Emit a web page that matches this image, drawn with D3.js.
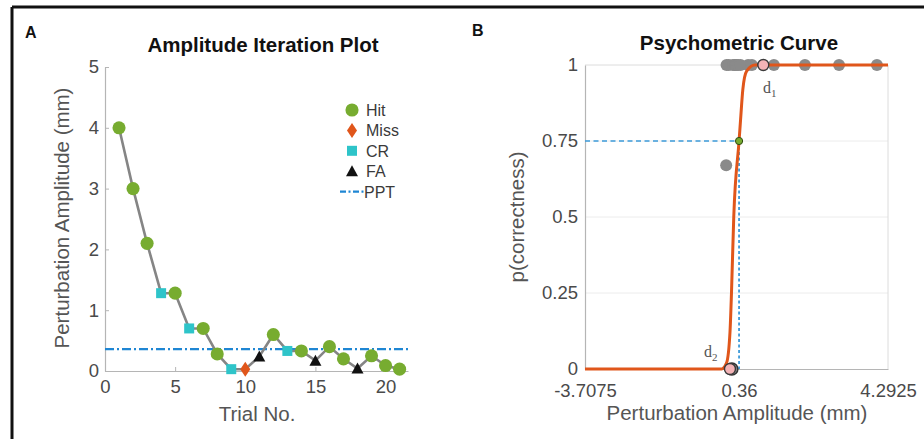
<!DOCTYPE html>
<html>
<head>
<meta charset="utf-8">
<script src="https://cdn.jsdelivr.net/npm/d3@7"></script>
<style>
    body { margin: 0; background: #fff; }
    svg text { font-family: "Liberation Sans", Arial, sans-serif; }
</style>
</head>
<body>
<div id="chart"></div>
<script>
// ---- panel A: amplitude iteration ----
const trials = [1, 2, 3, 4, 5, 6, 7, 8, 9, 10, 11, 12, 13, 14, 15, 16, 17, 18, 19, 20, 21];
const amplitudes = [4, 3, 2.1, 1.28, 1.28, 0.7, 0.7, 0.28, 0.03, 0.03, 0.24, 0.6, 0.33, 0.33, 0.17, 0.4, 0.2, 0.04, 0.25, 0.09, 0.03];
const outcomes = ['Hit', 'Hit', 'Hit', 'CR', 'Hit', 'CR', 'Hit', 'Hit', 'CR', 'Miss', 'FA', 'Hit', 'CR', 'Hit', 'FA', 'Hit', 'Hit', 'FA', 'Hit', 'Hit', 'Hit'];
const ppt = 0.36;
const xTicksA = [0, 5, 10, 15, 20];
const yTicksA = [0, 1, 2, 3, 4, 5];
const legendItems = ['Hit', 'Miss', 'CR', 'FA', 'PPT'];

// ---- panel B: psychometric curve ----
const curveX = [-3.7075, -0.1, 0.03, 0.12, 0.16, 0.22, 0.36, 0.40, 0.46, 0.56, 0.78, 4.2925];
const curveP = [0, 0, 0.02, 0.12, 0.25, 0.5, 0.75, 0.82, 0.92, 0.98, 1, 1];
const obsX = [0.03, 0.09, 0.2, 0.25, 0.28, 0.33, 0.4, 0.6, 0.7, 1.28, 2.1, 3, 4, 0.02, 0.17];
const obsP = [1, 1, 1, 1, 1, 1, 1, 1, 1, 1, 1, 1, 1, 0.67, 0];
const dPoints = [{ name: 'd1', x: 1.0, p: 1 }, { name: 'd2', x: 0.12, p: 0 }];
const threshold = { x: 0.36, p: 0.75 };
const xTicksB = [-3.7075, 0.36, 4.2925];
const yTicksB = [0, 0.25, 0.5, 0.75, 1];

const colors = {
    Hit: '#77ac30',
    Miss: '#e0561b',
    CR: '#2ec4c9',
    FA: '#111111',
    PPT: '#1f86d3',
    line: '#858585',
    curve: '#e0561b',
    axis: '#b5b5b5',
    tick: '#4a4a4a'
};

const tickFont = '18.5px';
const labelFont = '20.5px';
const titleFont = '20.5px';

const svg = d3.select('#chart').append('svg')
    .attr('width', 924)
    .attr('height', 439);

// figure frame (left and top edges only visible)
svg.append('line').attr('x1', 12).attr('y1', 7).attr('x2', 924).attr('y2', 7)
    .attr('stroke', '#111').attr('stroke-width', 3);
svg.append('line').attr('x1', 12).attr('y1', 7).attr('x2', 12).attr('y2', 439)
    .attr('stroke', '#111').attr('stroke-width', 3);

function styleAxis(g) {
    g.select('.domain').attr('stroke', colors.axis).attr('stroke-width', 1.2);
    g.selectAll('.tick line').attr('stroke', colors.axis);
    g.selectAll('.tick text').attr('fill', colors.tick)
        .style('font-family', '"Liberation Sans", Arial, sans-serif')
        .style('font-size', tickFont);
}

function markerPath(type) {
    if (type === 'Miss') return 'M0,-7.5L5,0L0,7.5L-5,0Z';
    if (type === 'CR') return 'M-5,-5H5V5H-5Z';
    if (type === 'FA') return 'M0,-6L6,5H-6Z';
    return d3.symbol(d3.symbolCircle, 135)();
}

function drawPanelA() {
    const x = d3.scaleLinear().domain([0, 21.6]).range([105, 408]);
    const y = d3.scaleLinear().domain([0, 5]).range([371, 67]);
    const g = svg.append('g');

    g.append('g')
        .attr('transform', 'translate(0,371)')
        .call(d3.axisBottom(x).tickValues(xTicksA).tickFormat(d => String(d)).tickSize(-4).tickSizeOuter(0).tickPadding(9))
        .call(styleAxis);

    g.append('g')
        .attr('transform', 'translate(105,0)')
        .call(d3.axisLeft(y).tickValues(yTicksA).tickFormat(d => String(d)).tickSize(-4).tickSizeOuter(0).tickPadding(6))
        .call(styleAxis);

    // threshold line
    g.append('line')
        .attr('x1', x(0)).attr('x2', x(21.6))
        .attr('y1', y(ppt)).attr('y2', y(ppt))
        .attr('stroke', colors.PPT).attr('stroke-width', 2.2)
        .attr('stroke-dasharray', '9,3,2,3');

    const pts = trials.map((t, i) => ({ t: t, a: amplitudes[i], o: outcomes[i] }));

    g.append('path')
        .datum(pts)
        .attr('fill', 'none')
        .attr('stroke', colors.line)
        .attr('stroke-width', 2.6)
        .attr('d', d3.line().x(d => x(d.t)).y(d => y(d.a)));

    g.selectAll('.mk')
        .data(pts)
        .join('path')
        .attr('class', 'mk')
        .attr('transform', d => `translate(${x(d.t)},${y(d.a)})`)
        .attr('d', d => markerPath(d.o))
        .attr('fill', d => colors[d.o]);

    // legend
    const lg = g.append('g').attr('transform', 'translate(352,110)');
    legendItems.forEach((name, i) => {
        const row = lg.append('g').attr('transform', `translate(0,${i * 20.4})`);
        if (name === 'PPT') {
            row.append('line').attr('x1', -12).attr('x2', 12).attr('y1', 0).attr('y2', 0)
                .attr('stroke', colors.PPT).attr('stroke-width', 2.2)
                .attr('stroke-dasharray', '6,2.5,2,2.5');
        } else {
            row.append('path').attr('d', markerPath(name)).attr('fill', colors[name]);
        }
        row.append('text')
            .attr('x', name === 'PPT' ? 12 : 14)
            .attr('y', 6)
            .attr('fill', '#3a3a3a')
            .style('font-size', '16px')
            .text(name);
    });

    g.append('text')
        .attr('x', 263).attr('y', 52)
        .attr('text-anchor', 'middle')
        .style('font-size', titleFont).style('font-weight', 'bold')
        .attr('fill', '#111')
        .text('Amplitude Iteration Plot');

    g.append('text')
        .attr('x', 257).attr('y', 421)
        .attr('text-anchor', 'middle')
        .style('font-size', labelFont)
        .attr('fill', '#555')
        .text('Trial No.');

    g.append('text')
        .attr('transform', 'translate(69,218) rotate(-90)')
        .attr('text-anchor', 'middle')
        .style('font-size', labelFont)
        .attr('fill', '#555')
        .text('Perturbation Amplitude (mm)');

    g.append('text')
        .attr('x', 25).attr('y', 38)
        .style('font-size', '16px').style('font-weight', 'bold')
        .attr('fill', '#111')
        .text('A');
}

function drawPanelB() {
    const x = d3.scaleLinear().domain([-3.7075, 4.2925]).range([585, 888]);
    const y = d3.scaleLinear().domain([0, 1]).range([369, 65]);
    const g = svg.append('g');

    // faint grid and box
    g.selectAll('.grid')
        .data(yTicksB.filter(v => v > 0))
        .join('line')
        .attr('class', 'grid')
        .attr('x1', x(-3.7075)).attr('x2', x(4.2925))
        .attr('y1', d => y(d)).attr('y2', d => y(d))
        .attr('stroke', d => d === 1 ? '#dcdcdc' : '#ececec');
    g.append('line')
        .attr('x1', x(4.2925)).attr('x2', x(4.2925))
        .attr('y1', y(0)).attr('y2', y(1))
        .attr('stroke', '#dcdcdc');

    g.append('g')
        .attr('transform', 'translate(0,369)')
        .call(d3.axisBottom(x).tickValues(xTicksB).tickFormat(d => String(d)).tickSize(0).tickSizeOuter(0).tickPadding(15))
        .call(styleAxis);

    g.append('g')
        .attr('transform', 'translate(585,0)')
        .call(d3.axisLeft(y).tickValues(yTicksB).tickFormat(d => String(d)).tickSize(0).tickSizeOuter(0).tickPadding(7))
        .call(styleAxis);

    // threshold guides
    g.append('line')
        .attr('x1', x(-3.7075)).attr('x2', x(threshold.x))
        .attr('y1', y(threshold.p)).attr('y2', y(threshold.p))
        .attr('stroke', '#3d9ad9').attr('stroke-width', 1.6)
        .attr('stroke-dasharray', '5,3.5');
    g.append('line')
        .attr('x1', x(threshold.x)).attr('x2', x(threshold.x))
        .attr('y1', y(threshold.p)).attr('y2', y(0))
        .attr('stroke', '#3d9ad9').attr('stroke-width', 1.8)
        .attr('stroke-dasharray', '3,2.5');

    // observed proportions
    g.selectAll('.obs')
        .data(obsX.map((v, i) => ({ x: v, p: obsP[i] })))
        .join('circle')
        .attr('class', 'obs')
        .attr('cx', d => x(d.x)).attr('cy', d => y(d.p))
        .attr('r', 6)
        .attr('fill', '#8a8a8a')
        .attr('stroke', d => d.p === 0 ? '#333' : 'none')
        .attr('stroke-width', 1.5);

    // fitted curve
    g.append('path')
        .datum(curveX.map((v, i) => ({ x: v, p: curveP[i] })))
        .attr('fill', 'none')
        .attr('stroke', colors.curve)
        .attr('stroke-width', 3)
        .attr('d', d3.line().curve(d3.curveMonotoneX).x(d => x(d.x)).y(d => y(d.p)));

    g.selectAll('.dpt')
        .data(dPoints)
        .join('circle')
        .attr('class', 'dpt')
        .attr('cx', d => x(d.x)).attr('cy', d => y(d.p))
        .attr('r', 5.5)
        .attr('fill', '#f4b3b6')
        .attr('stroke', '#3a3a3a')
        .attr('stroke-width', 1.4);

    const dLabels = [{ x: 763, y: 93 }, { x: 704, y: 357 }];
    dPoints.forEach((d, i) => {
        const t = g.append('text')
            .attr('x', dLabels[i].x).attr('y', dLabels[i].y)
            .attr('fill', '#555')
            .style('font-family', '"Liberation Serif", "DejaVu Serif", serif')
            .style('font-size', '16px');
        t.append('tspan').text('d');
        t.append('tspan').attr('dy', 4).style('font-size', '11px').text(d.name.slice(1));
    });

    g.append('circle')
        .attr('cx', x(threshold.x)).attr('cy', y(threshold.p))
        .attr('r', 3.6)
        .attr('fill', colors.Hit)
        .attr('stroke', '#2f4a10')
        .attr('stroke-width', 1);

    g.append('text')
        .attr('x', 739).attr('y', 50)
        .attr('text-anchor', 'middle')
        .style('font-size', titleFont).style('font-weight', 'bold')
        .attr('fill', '#111')
        .text('Psychometric Curve');

    g.append('text')
        .attr('x', 737).attr('y', 420)
        .attr('text-anchor', 'middle')
        .style('font-size', labelFont)
        .attr('fill', '#555')
        .text('Perturbation Amplitude (mm)');

    g.append('text')
        .attr('transform', 'translate(524,217) rotate(-90)')
        .attr('text-anchor', 'middle')
        .style('font-size', labelFont)
        .attr('fill', '#555')
        .text('p(correctness)');

    g.append('text')
        .attr('x', 472).attr('y', 36)
        .style('font-size', '16px').style('font-weight', 'bold')
        .attr('fill', '#111')
        .text('B');
}

drawPanelA();
drawPanelB();
</script>
</body>
</html>
